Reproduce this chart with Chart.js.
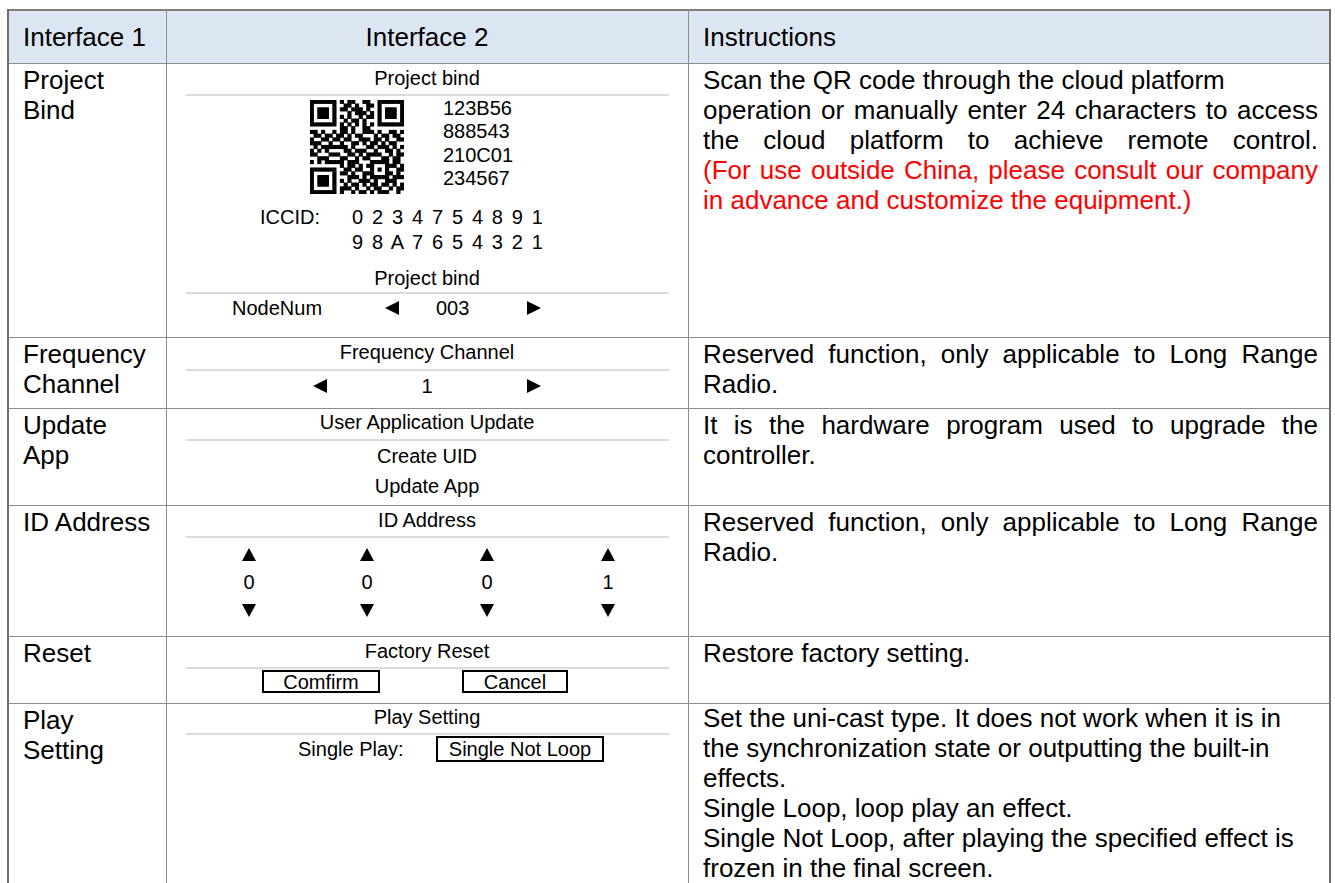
<!DOCTYPE html>
<html><head><meta charset="utf-8">
<script src="https://cdn.jsdelivr.net/npm/chart.js@4.4.0/dist/chart.umd.min.js"></script>
<style>
html,body{margin:0;padding:0;background:#fff;}
#page{position:relative;width:1335px;height:883px;overflow:hidden;font-family:"Liberation Sans",Arial,sans-serif;color:#000;}
.hl{position:absolute;background:#8c8c8c;height:1px;}
.vl{position:absolute;background:#8c8c8c;width:1px;}
.big{position:absolute;font-size:26px;line-height:30px;}
.sm{position:absolute;font-size:20px;line-height:24px;white-space:nowrap;}
.sep{position:absolute;left:186px;width:483px;height:2px;background:#dadada;}
.box{position:absolute;border:2px solid #000;box-sizing:border-box;font-size:20px;line-height:21px;text-align:center;white-space:nowrap;}
.tri{position:absolute;width:0;height:0;}
</style></head><body><div id="page"></div>
<script>
// ---------- data ----------
const headers = ["Interface 1", "Interface 2", "Instructions"];
const interface1 = ["Project Bind", "Frequency Channel", "Update App", "ID Address", "Reset", "Play Setting"];
const interface2Titles = ["Project bind", "Frequency Channel", "User Application Update", "ID Address", "Factory Reset", "Play Setting"];
const projectCodes = ["123B56", "888543", "210C01", "234567"];
const iccidLabel = "ICCID:";
const iccidLines = ["0 2 3 4 7 5 4 8 9 1", "9 8 A 7 6 5 4 3 2 1"];
const projectSub = ["Project bind", "NodeNum", "003"];
const frequencyValue = "1";
const updateItems = ["Create UID", "Update App"];
const idDigits = ["0", "0", "0", "1"];
const resetButtons = ["Comfirm", "Cancel"];
const playLabel = "Single Play:";
const playValue = "Single Not Loop";
// each entry: list of paragraphs of the "Instructions" cell
const instructions = [
  ["Scan the QR code through the cloud platform",
   "operation or manually enter 24 characters to access the cloud platform to achieve remote control."],
  ["Reserved function, only applicable to Long Range Radio."],
  ["It is the hardware program used to upgrade the controller."],
  ["Reserved function, only applicable to Long Range Radio."],
  ["Restore factory setting."],
  ["Set the uni-cast type. It does not work when it is in the synchronization state or outputting the built-in effects.",
   "Single Loop, loop play an effect.",
   "Single Not Loop, after playing the specified effect is frozen in the final screen."]
];
const instructionNotes = ["(For use outside China, please consult our company in advance and customize the equipment.)", "", "", "", "", ""];
const qrRows = [
  "1111111010110011001111111",
  "1000001001101001101000001",
  "1011101011011101001011101",
  "1011101000101110101011101",
  "1011101010100101101011101",
  "1000001001011010001000001",
  "1111111010101010101111111",
  "0000000011010011000000000",
  "1101001011010011101001101",
  "0110110110101100010110110",
  "1001101101100111011010011",
  "1110010010011010110101100",
  "0101111111010001101110101",
  "1010100001101110010011010",
  "1100011100110101111001011",
  "0011100011001011000110110",
  "1010111110111000111110110",
  "0000000010110101100011101",
  "1111111001101100101010011",
  "1000001011010011100011010",
  "1011101000111010111110111",
  "1011101010100111010011100",
  "1011101001011010110110101",
  "1000001011101001011001011",
  "1111111010010110101110010"
];

// ---------- layout ----------
const page = document.getElementById('page');
const X0 = 7, X1 = 166, X2 = 688, X3 = 1330;
const rowEdges = [9, 63, 337, 408, 505, 636, 703];
const C2 = (X1 + X2) / 2;
// paragraph alignment per cell (Word-style justified text)
const paraAlign = [["left", "stretch"], ["justify"], ["justify"], ["justify"], ["left"], ["left", "left", "left"]];
const col3Top = [2, 2, 2, 2, 2, 0];

function el(cls, style, text) {
  const d = document.createElement('div');
  if (cls) d.className = cls;
  Object.assign(d.style, style);
  if (text !== undefined) d.textContent = text;
  page.appendChild(d);
  return d;
}
function smC(text, cx, cy) { return el('sm', {left: (cx - 200) + 'px', width: '400px', textAlign: 'center', top: (cy - 12) + 'px'}, text); }
function smL(text, x, cy, extra) { return el('sm', Object.assign({left: x + 'px', top: (cy - 12) + 'px'}, extra || {}), text); }
function triL(x, cy) { el('tri', {left: x + 'px', top: (cy - 7) + 'px', borderRight: '14px solid #000', borderTop: '7px solid transparent', borderBottom: '7px solid transparent'}); }
function triR(x, cy) { el('tri', {left: x + 'px', top: (cy - 7) + 'px', borderLeft: '14px solid #000', borderTop: '7px solid transparent', borderBottom: '7px solid transparent'}); }
function triU(cx, cy) { el('tri', {left: (cx - 7) + 'px', top: (cy - 6) + 'px', borderBottom: '13px solid #000', borderLeft: '7px solid transparent', borderRight: '7px solid transparent'}); }
function triD(cx, cy) { el('tri', {left: (cx - 7) + 'px', top: (cy - 6) + 'px', borderTop: '13px solid #000', borderLeft: '7px solid transparent', borderRight: '7px solid transparent'}); }
function sep(y) { el('sep', {top: y + 'px'}); }

// header background
el('', {position: 'absolute', left: X0 + 'px', top: rowEdges[0] + 'px', width: (X3 - X0) + 'px', height: (rowEdges[1] - rowEdges[0]) + 'px', background: '#dce6f2'});

// grid lines
rowEdges.forEach((y, i) => el('hl', {left: X0 + 'px', top: y + 'px', width: (X3 - X0) + 'px', height: (i === 0 ? 2 : 1) + 'px', background: i === 0 ? '#7f7f7f' : '#8c8c8c'}));
el('vl', {left: X0 + 'px', top: rowEdges[0] + 'px', height: '900px', width: '2px', background: '#6f6f6f'});
el('vl', {left: X1 + 'px', top: rowEdges[0] + 'px', height: '900px'});
el('vl', {left: X2 + 'px', top: rowEdges[0] + 'px', height: '900px'});
el('vl', {left: (X3 - 1) + 'px', top: rowEdges[0] + 'px', height: '900px', width: '2px', background: '#6f6f6f'});

// header texts
const hy = (rowEdges[0] + rowEdges[1]) / 2 + 1;
el('big', {left: '23px', top: (hy - 15) + 'px'}, headers[0]);
el('big', {left: (C2 - 200) + 'px', width: '400px', textAlign: 'center', top: (hy - 15) + 'px'}, headers[1]);
el('big', {left: '703px', top: (hy - 15) + 'px'}, headers[2]);

// column 1 and column 3
interface1.forEach((t, i) => {
  const top = rowEdges[i + 1] + 2;
  el('big', {left: '23px', width: '133px', top: top + 'px'}, t);
  const d = el('big', {left: '703px', width: '615px', top: (rowEdges[i + 1] + col3Top[i]) + 'px'});
  instructions[i].forEach((p, k) => {
    const pd = document.createElement('div');
    const a = paraAlign[i][k];
    pd.style.textAlign = a === 'stretch' ? 'justify' : a;
    if (a === 'stretch') pd.style.textAlignLast = 'justify';
    pd.textContent = p;
    d.appendChild(pd);
  });
  if (instructionNotes[i]) {
    const s = document.createElement('div');
    s.style.color = '#ff0000';
    s.style.textAlign = 'justify';
    s.textContent = instructionNotes[i];
    d.appendChild(s);
  }
});

// ---- column 2: Project bind ----
smC(interface2Titles[0], C2, 78); sep(94);
const qrCanvas = document.createElement('canvas');
qrCanvas.width = 100; qrCanvas.height = 100;
Object.assign(qrCanvas.style, {position: 'absolute', left: '307px', top: '97px', width: '100px', height: '100px'});
page.appendChild(qrCanvas);
projectCodes.forEach((c, i) => smL(c, 443, 108 + i * 23.3));
smL(iccidLabel, 260, 217);
iccidLines.forEach((l, i) => smL(l, 352, 217 + i * 25, {wordSpacing: '3.3px'}));
smC(projectSub[0], C2, 278); sep(292);
smL(projectSub[1], 232, 308);
triL(385, 308);
smL(projectSub[2], 436, 308);
triR(527, 308);

// ---- Frequency ----
smC(interface2Titles[1], C2, 352); sep(369);
triL(313, 386); smC(frequencyValue, C2, 386); triR(527, 386);

// ---- Update ----
smC(interface2Titles[2], C2, 422); sep(439);
updateItems.forEach((t, i) => smC(t, C2, 456 + i * 30));

// ---- ID Address ----
smC(interface2Titles[3], C2, 520); sep(536);
const idX = [249, 367, 487, 608];
idDigits.forEach((d, i) => { triU(idX[i], 554); smC(d, idX[i], 582); triD(idX[i], 610); });

// ---- Reset ----
smC(interface2Titles[4], C2, 651); sep(667);
const btnX = [[262, 118], [462, 106]];
resetButtons.forEach((b, i) => el('box', {left: btnX[i][0] + 'px', width: btnX[i][1] + 'px', top: '670px', height: '23px'}, b));

// ---- Play ----
smC(interface2Titles[5], C2, 717); sep(733);
smL(playLabel, 298, 749);
el('box', {left: '436px', width: '168px', top: '736px', height: '26px', lineHeight: '23px'}, playValue);

// ---- QR code drawn by Chart.js ----
const qrPoints = [];
qrRows.forEach((row, r) => { for (let c = 0; c < row.length; c++) if (row[c] === '1') qrPoints.push({x: c, y: r}); });
new Chart(qrCanvas, {
  type: 'scatter',
  data: {datasets: [{data: qrPoints, pointStyle: 'rect', pointRadius: 2.95, pointHoverRadius: 2.95, backgroundColor: '#000', borderWidth: 0}]},
  options: {
    responsive: false, animation: false, events: [], devicePixelRatio: 1,
    layout: {padding: 0},
    plugins: {legend: {display: false}, tooltip: {enabled: false}},
    scales: {
      x: {type: 'linear', min: -0.5, max: 24.5, display: false},
      y: {type: 'linear', min: -0.5, max: 24.5, reverse: true, display: false}
    }
  }
});
</script></body></html>
